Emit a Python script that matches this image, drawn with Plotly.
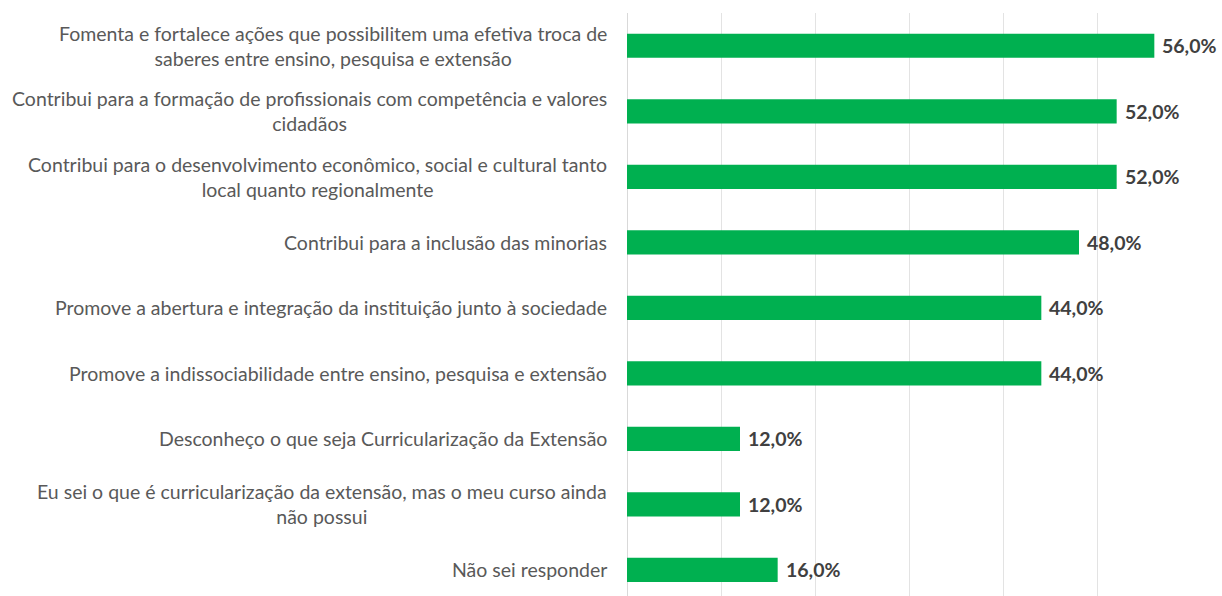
import plotly.graph_objects as go

categories = [
    "Fomenta e fortalece ações que possibilitem uma efetiva troca de<br>saberes entre ensino, pesquisa e extensão",
    "Contribui para a formação de profissionais com competência e valores<br>cidadãos",
    "Contribui para o desenvolvimento econômico, social e cultural tanto<br>local quanto regionalmente",
    "Contribui para a inclusão das minorias",
    "Promove a abertura e integração da instituição junto à sociedade",
    "Promove a indissociabilidade entre ensino, pesquisa e extensão",
    "Desconheço o que seja Curricularização da Extensão",
    "Eu sei o que é curricularização da extensão, mas o meu curso ainda<br>não possui",
    "Não sei responder",
]
values = [0.56, 0.52, 0.52, 0.48, 0.44, 0.44, 0.12, 0.12, 0.16]

idx = list(range(len(categories)))
labels = [f"{v*100:.1f}%".replace(".", ",") for v in values]

fig = go.Figure()
fig.add_trace(go.Bar(
    y=idx, x=values, orientation="h",
    marker=dict(color="#00B050", line=dict(width=0)),
    width=0.37,
))

annotations = []
for i, c in enumerate(categories):
    annotations.append(dict(
        x=0, xref="paper", y=i, yref="y", text=c, showarrow=False,
        xanchor="right", yanchor="middle", align="center", xshift=-18,
        font=dict(family="Lato", size=19.5, color="#595959"),
    ))
for i, (v, t) in enumerate(zip(values, labels)):
    annotations.append(dict(
        x=v, xref="x", y=i, yref="y", text=f"<b>{t}</b>", showarrow=False,
        xanchor="left", yanchor="middle", xshift=6,
        font=dict(family="Lato", size=19.5, color="#404040"),
    ))

fig.update_layout(
    width=1222, height=596,
    margin=dict(l=627, r=30, t=13, b=0),
    plot_bgcolor="white", paper_bgcolor="white",
    showlegend=False,
    annotations=annotations,
    xaxis=dict(range=[0, 0.6], dtick=0.1, showticklabels=False,
               showgrid=True, gridcolor="#E3E3E3", gridwidth=1,
               zeroline=True, zerolinecolor="#D9D9D9", zerolinewidth=1),
    yaxis=dict(range=[8.4, -0.5], showticklabels=False, showgrid=False,
               zeroline=False),
)

fig.write_html("out.html", config={"displayModeBar": False},
               post_script="document.body.style.margin='0';")
